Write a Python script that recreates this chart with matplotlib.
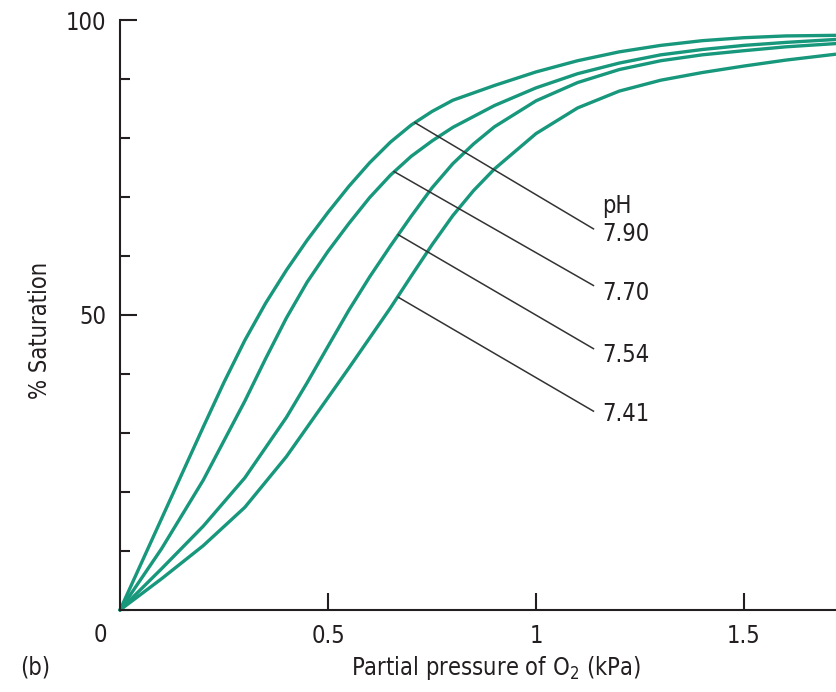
import matplotlib
matplotlib.use("Agg")
import matplotlib.pyplot as plt
from matplotlib.ticker import MultipleLocator

# oxygen dissociation curves (kPa, % saturation)
ph_labels = ["7.90", "7.70", "7.54", "7.41"]

po2_790 = [0, 0.1, 0.2, 0.25, 0.3, 0.35, 0.4, 0.45, 0.5, 0.55, 0.6, 0.65, 0.7, 0.75, 0.8, 0.9, 1.0, 1.1, 1.2, 1.3, 1.4, 1.5, 1.6, 1.72]
sat_790 = [0, 15.5, 31.0, 38.6, 45.7, 52.0, 57.6, 62.7, 67.4, 71.8, 75.8, 79.3, 82.2, 84.5, 86.4, 88.9, 91.2, 93.1, 94.6, 95.7, 96.5, 97.0, 97.3, 97.4]

po2_770 = [0, 0.1, 0.2, 0.3, 0.35, 0.4, 0.45, 0.5, 0.55, 0.6, 0.65, 0.7, 0.75, 0.8, 0.9, 1.0, 1.1, 1.2, 1.3, 1.4, 1.5, 1.6, 1.72]
sat_770 = [0, 10.4, 22.0, 35.4, 42.6, 49.5, 55.6, 60.8, 65.5, 69.9, 73.7, 76.9, 79.5, 81.8, 85.5, 88.5, 90.9, 92.7, 94.1, 95.0, 95.7, 96.2, 96.7]

po2_754 = [0, 0.1, 0.2, 0.3, 0.4, 0.45, 0.5, 0.55, 0.6, 0.65, 0.7, 0.75, 0.8, 0.85, 0.9, 1.0, 1.1, 1.2, 1.3, 1.4, 1.5, 1.6, 1.72]
sat_754 = [0, 7.0, 14.2, 22.4, 32.65, 38.55, 44.7, 50.8, 56.45, 61.7, 66.75, 71.55, 75.65, 79.0, 81.9, 86.3, 89.4, 91.6, 93.1, 94.1, 94.8, 95.45, 96.0]

po2_741 = [0, 0.1, 0.2, 0.3, 0.4, 0.5, 0.55, 0.6, 0.65, 0.7, 0.75, 0.8, 0.85, 0.9, 1.0, 1.1, 1.2, 1.3, 1.4, 1.5, 1.6, 1.72]
sat_741 = [0, 5.3, 10.9, 17.4, 26.0, 36.0, 41.0, 46.1, 51.2, 56.6, 61.9, 66.85, 71.1, 74.75, 80.75, 85.1, 87.95, 89.8, 91.1, 92.2, 93.2, 94.2]

# leader lines: start on curve, end near label
lead_start_x = [0.709, 0.659, 0.669, 0.669]
lead_start_y = [82.6, 74.3, 63.6, 53.0]
lead_end_x = [1.138, 1.138, 1.138, 1.138]
lead_end_y = [64.6, 55.0, 44.3, 33.7]
label_y = [63.8, 53.7, 43.2, 33.3]

curve_color = "#17977b"
text_color = "#231f20"
fs = 17
plt.rcParams["font.family"] = ["DejaVu Sans"]
plt.rcParams["font.stretch"] = "condensed"

fig = plt.figure(figsize=(8.36, 6.92), dpi=100)
ax = fig.add_axes([120 / 836, 82 / 692, 716 / 836, 590 / 692])

for xs, ys in [(po2_790, sat_790), (po2_770, sat_770), (po2_754, sat_754), (po2_741, sat_741)]:
    ax.plot(xs, ys, color=curve_color, lw=2.4, solid_joinstyle="round", solid_capstyle="round", clip_on=False)

for i in range(len(ph_labels)):
    ax.plot([lead_start_x[i], lead_end_x[i]], [lead_start_y[i], lead_end_y[i]],
            color="#333333", lw=1.1)
    ax.text(1.158, label_y[i], ph_labels[i], fontsize=fs, color=text_color,
            ha="left", va="center")
ax.text(1.158, 68.4, "pH", fontsize=fs, color=text_color, ha="left", va="center")

ax.set_xlim(0, 1.721)
ax.set_ylim(0, 100)

for side in ["top", "right"]:
    ax.spines[side].set_visible(False)
for side in ["left", "bottom"]:
    ax.spines[side].set_linewidth(1.5)
    ax.spines[side].set_color(text_color)

ax.set_xticks([0.5, 1, 1.5])
ax.set_xticklabels(["0.5", "1", "1.5"])
ax.set_yticks([50, 100])
ax.set_yticklabels(["50", "100"])
ax.yaxis.set_minor_locator(MultipleLocator(10))
ax.tick_params(axis="both", which="major", direction="in", length=12, width=1.5,
               color=text_color, labelsize=fs, labelcolor=text_color, pad=10)
ax.tick_params(axis="y", which="minor", direction="in", length=7, width=1.5, color=text_color)
ax.tick_params(axis="x", which="minor", length=0)

# shared origin label
fig.text(100 / 836, 1 - 635 / 692, "0", fontsize=fs, color=text_color, ha="center", va="center")

fig.text(40 / 836, 1 - 330 / 692, "% Saturation", fontsize=fs, color=text_color,
         rotation=90, ha="center", va="center")
fig.text(496 / 836, 1 - 668 / 692, "Partial pressure of O$_2$ (kPa)", fontsize=fs,
         color=text_color, ha="center", va="center")
fig.text(20 / 836, 1 - 668 / 692, "(b)", fontsize=fs, color=text_color, ha="left", va="center")

fig.savefig("out.png", dpi=100)
